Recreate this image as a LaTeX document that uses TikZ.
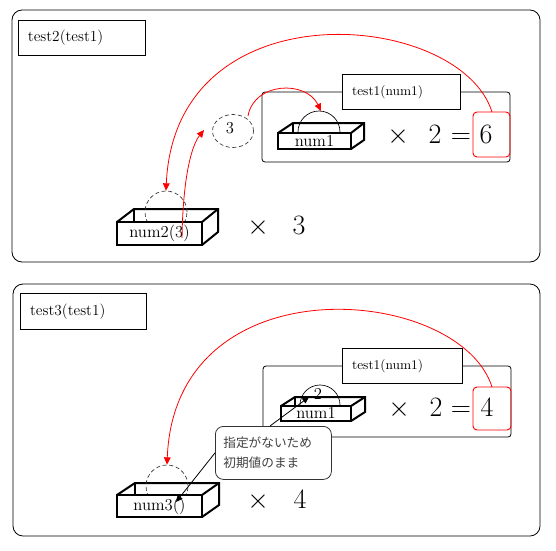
\documentclass[tikz,border=0pt]{standalone}
\usepackage{fontspec}
\newfontfamily\jpfont{Noto Sans CJK JP}
\usetikzlibrary{arrows.meta,shapes.geometric}
\begin{document}
\begin{tikzpicture}[x=0.75pt,y=-0.75pt,
  panel/.style={draw, rounded corners=7.5pt, line width=0.6pt},
  inner/.style={draw, rounded corners=2.25pt, line width=0.6pt},
  lbl/.style={draw, fill=white, line width=0.7pt, anchor=north west, align=left, inner xsep=7pt, inner ysep=0pt},
  front/.style={draw, fill=white, line width=1.5pt, inner sep=0pt},
  edge3d/.style={line width=1.5pt, line join=miter},
  dashc/.style={draw=black!80, circle, dash pattern=on 3pt off 2pt, line width=0.5pt, inner sep=0pt},
  redarr/.style={red, line width=0.6pt, -{Triangle[length=5.5pt,width=5pt]}},
  blkarr/.style={black, line width=0.6pt, -{Triangle[length=5pt,width=4.5pt]}},
  redbox/.style={draw=red, rounded corners=3pt, line width=0.7pt},
  big/.style={font=\fontsize{21}{24}\selectfont, inner sep=0pt, anchor=base},
  boxtxt/.style={font=\fontsize{12.5}{13}\selectfont},
  callout/.style={draw=black!80, fill=white, rounded corners=6pt, line width=0.6pt, anchor=north west, align=left, text width=75pt, inner xsep=6pt, inner ysep=0pt, minimum height=39.75pt, font=\jpfont\fontsize{9.5}{15}\selectfont, text=black!75}
]
\useasboundingbox (0,0) rectangle (556,550);

% ===================== top panel =====================
\draw[panel] (12,10) rectangle (540,262);
\node[lbl, minimum width=95.25pt, minimum height=26.25pt, text width=81pt, font=\fontsize{11.5}{13}\selectfont] (t2) at (18,20) {test2(test1)};

\draw[inner] (262,92) rectangle (510,162);
\node[lbl, minimum width=88.5pt, minimum height=26.25pt, text width=74pt, font=\fontsize{10}{12}\selectfont] (t1a) at (342,74) {test1(num1)};

% num1 box (top)
\draw[edge3d] (278,133) -- (293,123) -- (364,123) -- (364,140) -- (351,149);
\draw[edge3d] (351,133) -- (364,123);
\draw[edge3d] (293,123) -- (293,133);
\draw[line width=0.5pt] (298,132) arc[start angle=180, end angle=360, radius=21];
\coordinate (semiA) at (321,111);
\node[front, minimum width=54.75pt, minimum height=12pt, boxtxt] (n1a) at (314.5,141) {num1};

\node[big] (xa) at (398,143) {$\times$};
\node[big] (twoa) at (435,143) {2};
\node[big] (eqa) at (461,143) {=};
\node[redbox, minimum width=27.75pt, minimum height=33.75pt] (r6) at (491.5,134.5) {};
\node[big] (six) at (486,143) {6};

% dashed ellipse with 3
\node[draw=black!80, ellipse, dash pattern=on 3pt off 2pt, line width=0.5pt, minimum width=30.75pt, minimum height=24.75pt, inner sep=0pt] (e3) at (233,131) {};
\node[font=\fontsize{12.5}{12}\selectfont, inner sep=0pt] (three) at (230,128) {3};

% num2 box
\draw[edge3d] (117,222) -- (134,209) -- (218,209) -- (218,232) -- (202,245);
\draw[edge3d] (202,222) -- (218,209);
\draw[edge3d] (134,209) -- (134,222);
\node[dashc, minimum size=31.5pt] (c2) at (166,212) {};
\node[front, minimum width=63.75pt, minimum height=17.25pt, boxtxt] (n2) at (159.5,233.5) {num2(3)};

\node[big] (xb) at (258,234) {$\times$};
\node[big] (threeb) at (299,234) {3};

% red arrows top
\coordinate (s1) at (492,112);
\draw[redarr] (s1) .. controls (460,10) and (175,-15) .. (c2.north);
\coordinate (s2) at (182,238);
\coordinate (t2e) at (204,130);
\draw[redarr] (s2) .. controls (183,175) and (192,145) .. (t2e);
\coordinate (s3) at (248,116);
\draw[redarr] (s3) .. controls (254,82) and (306,80) .. (semiA);

% ===================== bottom panel =====================
\draw[panel] (13,284) rectangle (540,536);
\node[lbl, minimum width=94.5pt, minimum height=27pt, text width=80pt, font=\fontsize{11.5}{13}\selectfont] (t3) at (20,293) {test3(test1)};

\draw[inner] (263,366) rectangle (511,437);
\node[lbl, minimum width=90pt, minimum height=26.25pt, text width=75.5pt, font=\fontsize{10}{12}\selectfont] (t1b) at (342,348) {test1(num1)};

% num1 box (bottom)
\draw[edge3d] (281,406) -- (295,397) -- (365,397) -- (365,412) -- (351,421);
\draw[edge3d] (351,406) -- (365,397);
\draw[edge3d] (295,397) -- (295,406);
\draw[line width=0.5pt] (300,405) arc[start angle=180, end angle=360, radius=20];
\node[font=\fontsize{12.5}{12}\selectfont, inner sep=0pt, anchor=base] (twob) at (318,399) {2};
\node[front, minimum width=52.5pt, minimum height=11.25pt, boxtxt] (n1b) at (316,413.5) {num1};

\node[big] (xc) at (399,416) {$\times$};
\node[big] (twoc) at (436,416) {2};
\node[big] (eqc) at (461,416) {=};
\node[redbox, minimum width=28.5pt, minimum height=32.25pt] (r4) at (492,408.5) {};
\node[big] (four) at (487,416) {4};

% num3 box
\draw[edge3d] (117,495) -- (135,483) -- (219,483) -- (219,505) -- (202,517);
\draw[edge3d] (202,495) -- (219,483);
\draw[edge3d] (135,483) -- (135,495);
\node[dashc, minimum size=31.5pt] (c3) at (167,486) {};
\node[front, minimum width=63.75pt, minimum height=16.5pt, boxtxt] (n3) at (159.5,506) {num3()};

\node[big] (xd) at (258,508) {$\times$};
\node[big] (fourb) at (300,508) {4};

% callout
\node[callout] (call) at (215,426) {指定がないため\\初期値のまま};

% arrows bottom
\coordinate (s4) at (492,387);
\draw[redarr] (s4) .. controls (460,285) and (175,260) .. (c3.north);
\coordinate (a1) at (270,426);
\coordinate (a1e) at (309,397);
\draw[blkarr] (a1) -- (a1e);
\coordinate (a2e) at (176,502);
\draw[blkarr] (call.west) -- (a2e);
\end{tikzpicture}
\end{document}
